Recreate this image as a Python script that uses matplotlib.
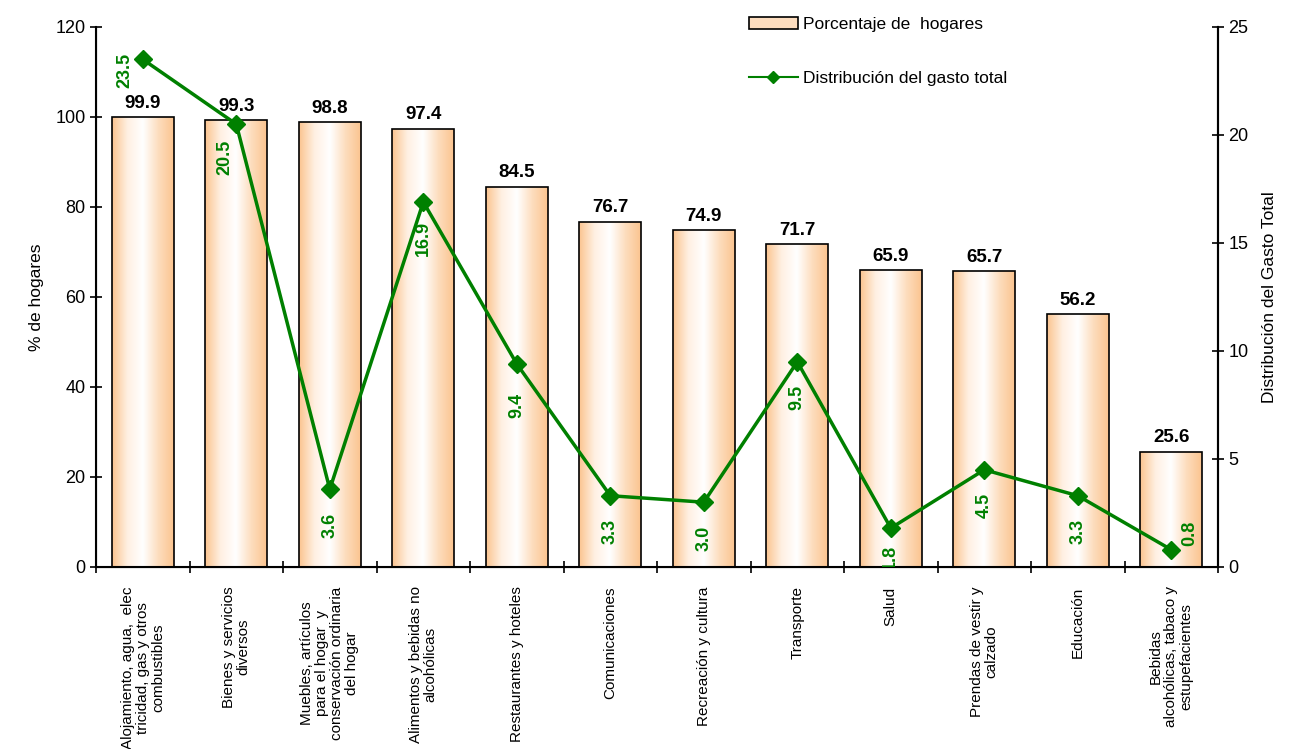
import numpy as np
import matplotlib
matplotlib.use("Agg")
import matplotlib.pyplot as plt
from matplotlib.colors import LinearSegmentedColormap
from matplotlib.patches import Patch
from matplotlib.lines import Line2D

plt.rcParams['font.family'] = ['Liberation Sans', 'DejaVu Sans']

categorias = [
    "Alojamiento, agua,  elec\ntricidad, gas y otros\ncombustibles",
    "Bienes y servicios\ndiversos",
    "Muebles, artículos\npara el hogar  y\nconservación ordinaria\ndel hogar",
    "Alimentos y bebidas no\nalcohólicas",
    "Restaurantes y hoteles",
    "Comunicaciones",
    "Recreación y cultura",
    "Transporte",
    "Salud",
    "Prendas de vestir y\ncalzado",
    "Educación",
    "Bebidas\nalcohólicas, tabaco y\nestupefacientes",
]
pct_hogares = [99.9, 99.3, 98.8, 97.4, 84.5, 76.7, 74.9, 71.7, 65.9, 65.7, 56.2, 25.6]
dist_gasto = [23.5, 20.5, 3.6, 16.9, 9.4, 3.3, 3.0, 9.5, 1.8, 4.5, 3.3, 0.8]

# desplazamientos (puntos) de las etiquetas verdes
offs = [(-13, -8), (-8, -24), (0, -26), (0, -26), (0, -30), (0, -26),
        (0, -26), (0, -26), (0, -21), (0, -26), (0, -26), (13, 12)]

fig = plt.figure(figsize=(12.91, 7.49), dpi=100)
ax = fig.add_axes([0.0744, 0.243, 0.8691, 0.721])
x = np.arange(len(categorias))
w = 0.66

cmap = LinearSegmentedColormap.from_list("g", ["#FBC48F", "#FFF0E2", "#FFFFFF", "#FDDDBE", "#FBC48F"])
grad = np.linspace(0, 1, 256).reshape(1, -1)
bars = ax.bar(x, pct_hogares, width=w, facecolor="none", edgecolor="black", linewidth=1.2, zorder=3)
for b in bars:
    im = ax.imshow(grad, cmap=cmap, aspect="auto", zorder=2,
                   extent=[b.get_x(), b.get_x() + b.get_width(), 0, b.get_height()])
    im.set_clip_path(b)
for xi, v in zip(x, pct_hogares):
    ax.text(xi, v + 1.2, f"{v:.1f}", ha="center", va="bottom", fontsize=13.5, fontweight="bold")

ax.set_xlim(-0.5, len(categorias) - 0.5)
ax.set_ylim(0, 120)
ax.set_yticks(range(0, 121, 20))
ax.set_ylabel("% de hogares", fontsize=12.5, labelpad=8)
ax.set_xticks(x)
ax.set_xticklabels(categorias, rotation=90, fontsize=11, multialignment="center", linespacing=1.1)
ax.set_xticks(np.arange(-0.5, len(categorias), 1), minor=True)
ax.tick_params(axis="x", which="major", length=0, pad=14)
ax.tick_params(axis="x", which="minor", length=8, direction="inout", width=1.2)
ax.tick_params(axis="y", length=8, direction="inout", width=1.2, labelsize=13)
ax.spines["top"].set_visible(False)
for s in ["left", "bottom", "right"]:
    ax.spines[s].set_linewidth(1.5)

ax2 = ax.twinx()
ax2.set_ylim(0, 25)
ax2.set_yticks(range(0, 26, 5))
ax2.tick_params(axis="y", length=8, direction="inout", width=1.2, labelsize=13)
ax2.spines["top"].set_visible(False)
ax2.spines["right"].set_linewidth(1.5)
ax2.set_ylabel("Distribución del Gasto Total", fontsize=12.5, labelpad=10)
ax2.plot(x, dist_gasto, color="#008000", linewidth=2.5, marker="D", markersize=9, zorder=5)
for xi, v, o in zip(x, dist_gasto, offs):
    ax2.annotate(f"{v:.1f}", (xi, v), xytext=o, textcoords="offset points", rotation=90,
                 ha="center", va="center", color="#008000", fontsize=13, fontweight="bold",
                 annotation_clip=False, clip_on=True)

handles = [Patch(facecolor="#FDDDBF", edgecolor="black", linewidth=1.2),
           Line2D([0], [0], color="#008000", linewidth=1.5, marker="D", markersize=6)]
fig.legend(handles, ["Porcentaje de  hogares", "Distribución del gasto total"],
           loc="upper left", bbox_to_anchor=(0.568, 0.998), frameon=False, fontsize=12.5,
           labelspacing=2.2, handlelength=2.8, handletextpad=0.3)

fig.savefig("out.png", dpi=100)
